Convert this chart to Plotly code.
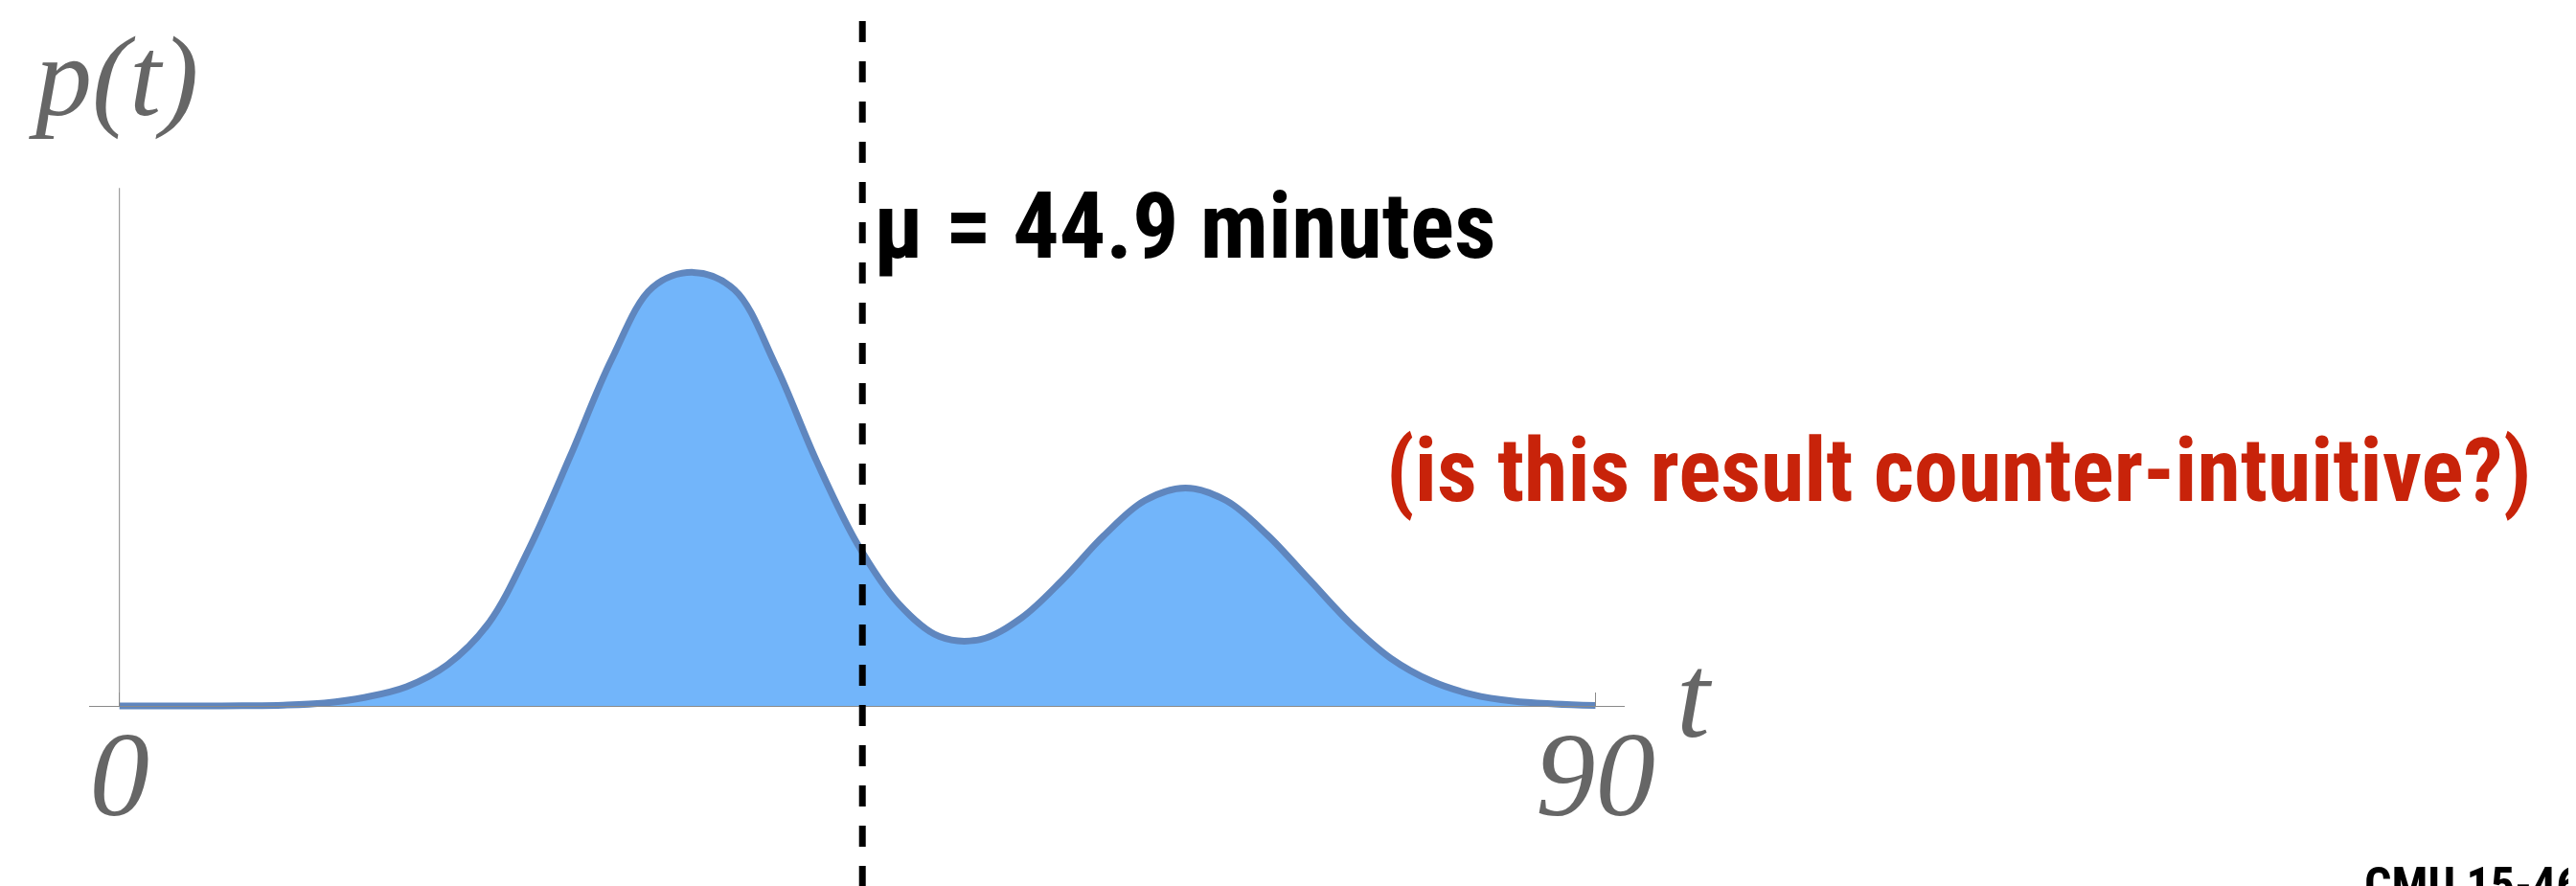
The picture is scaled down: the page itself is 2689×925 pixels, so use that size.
import subprocess
import plotly.graph_objects as go

# ---------------- data ----------------
t_vals = [0, 2.5, 5, 7.5, 10, 12.5, 15, 17.5, 20, 22.5, 25, 27.5, 30, 32.5, 35,
          37.5, 40, 42.5, 45, 47.5, 50, 52.5, 55, 57.5, 60, 62.5, 65, 67.5, 70,
          72.5, 75, 77.5, 80, 82.5, 85, 87.5, 90]
p_vals = [0.0, 0.0, 0.0, 0.00002, 0.00007, 0.00025, 0.00075, 0.00166, 0.00356,
          0.00713, 0.01367, 0.02165, 0.02995, 0.03620, 0.03750, 0.03600, 0.02950,
          0.02120, 0.01400, 0.00886, 0.00600, 0.00575, 0.00762, 0.01090, 0.01470,
          0.01775, 0.01885, 0.01775, 0.01478, 0.01100, 0.00721, 0.00414, 0.00215,
          0.00099, 0.00041, 0.00017, 0.00004]
x_tick_vals = [0, 90]
x_tick_text = ["0", "90"]
mean_label = "μ = 44.9 minutes"
mean_line_t = 45.3
question_label = "(is this result counter-intuitive?)"
y_axis_label = "p(t)"
x_axis_label = "t"
footer_label = "CMU 15-462/662"
y_axis_top = 0.0448

# ---------------- fonts ----------------
def installed_families():
    fams = set()
    try:
        out = subprocess.run(["fc-list", ":", "family"], capture_output=True,
                             text=True, timeout=20).stdout
        for line in out.splitlines():
            for f in line.split(","):
                fams.add(f.strip())
    except Exception:
        pass
    return fams

fams = installed_families()
COND, BIG, RED_SIZE, SMALL = "'Liberation Sans', Arial, sans-serif", 80, 78, 44
for cand in ["Roboto Condensed", "Liberation Sans Narrow", "Arial Narrow",
             "Open Sans Condensed", "Noto Sans Condensed"]:
    if cand in fams:
        COND, BIG, RED_SIZE, SMALL = "'%s', sans-serif" % cand, 96, 92, 50
        break

# ---------------- styling ----------------
W, H = 2689, 925
OFFY = 8          # page offset of the plot div
FILL = "#72B5FA"
LINE = "#5F86BE"
AXIS = "#8a8a8a"
GRAY_TXT = "#666666"
RED = "#C8230A"
SERIF = "'Liberation Serif', 'DejaVu Serif', serif"
BASE = 737 - OFFY          # baseline (pixels from top of figure)
PXU = 12070                # pixels per unit of p

def px(x):
    return x / W

def py(y):
    return 1 - (y - OFFY) / H

fig = go.Figure()
fig.add_trace(go.Scatter(
    x=t_vals, y=p_vals, mode="lines",
    line=dict(color=LINE, width=7, shape="spline", smoothing=1.0),
    fill="tozeroy", fillcolor=FILL, hoverinfo="skip", showlegend=False,
))

# y-axis line (from baseline up)
fig.add_shape(type="line", xref="x", yref="y", x0=0, x1=0, y0=0, y1=y_axis_top,
              line=dict(color=AXIS, width=1), layer="above")
# dashed mean line
fig.add_shape(type="line", xref="x", yref="paper", x0=mean_line_t, x1=mean_line_t,
              y0=py(22), y1=py(960),
              line=dict(color="black", width=7, dash="22px,20px"), layer="above")

annos = [
    dict(text=y_axis_label, x=px(20), y=py(81), xanchor="left", yanchor="middle",
         font=dict(family=SERIF, size=118, color=GRAY_TXT, style="italic")),
    dict(text=x_axis_label, x=px(1782), y=py(727), xanchor="center", yanchor="middle",
         font=dict(family=SERIF, size=125, color=GRAY_TXT, style="italic")),
    dict(text=mean_label, x=px(1243), y=py(236), xanchor="center", yanchor="middle",
         font=dict(family=COND, size=BIG, color="black", weight="bold")),
    dict(text=question_label, x=px(2060), y=py(491), xanchor="center", yanchor="middle",
         font=dict(family=COND, size=RED_SIZE, color=RED, weight="bold")),
    dict(text=footer_label, x=px(2487), y=py(893), xanchor="left", yanchor="top",
         font=dict(family=COND, size=SMALL, color="black", weight="bold")),
]
for a in annos:
    a.update(xref="paper", yref="paper", showarrow=False)
    fig.add_annotation(**a)

fig.update_layout(
    width=W, height=H,
    margin=dict(l=0, r=0, t=0, b=0, pad=0),
    paper_bgcolor="white", plot_bgcolor="rgba(0,0,0,0)",
    showlegend=False,
    xaxis=dict(
        domain=[px(86), px(1708)], range=[-1.85, 91.80],
        anchor="free", position=(H - BASE) / H,
        showline=True, linecolor=AXIS, linewidth=1,
        ticks="inside", ticklen=14, tickwidth=1, tickcolor=AXIS,
        tickvals=x_tick_vals, ticktext=x_tick_text,
        tickfont=dict(family=SERIF, size=125, color=GRAY_TXT, style="italic"),
        ticklabelstandoff=-37,
        showgrid=False, zeroline=False, fixedrange=True,
    ),
    yaxis=dict(
        domain=[0, 1], range=[-(H - BASE) / PXU, BASE / PXU],
        visible=False, showgrid=False, zeroline=False, fixedrange=True,
    ),
)

fig.write_html("out.html")
